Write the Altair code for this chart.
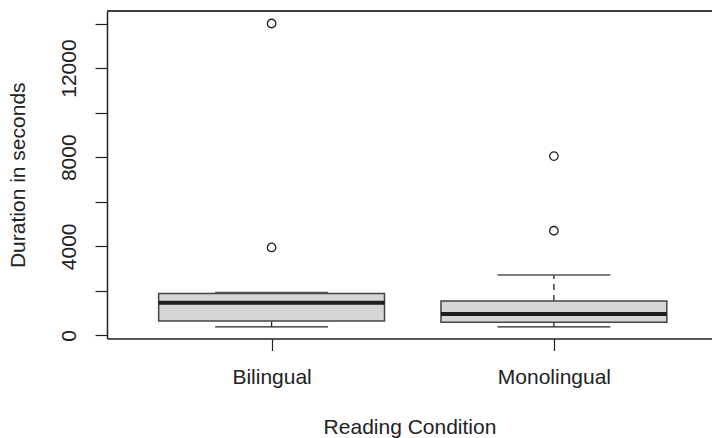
import altair as alt
import pandas as pd

categories = ["Bilingual", "Monolingual"]
lower_whisker = [390, 390]
q1 = [650, 590]
median = [1470, 965]
q3 = [1880, 1550]
upper_whisker = [1930, 2715]
outlier_group = ["Bilingual", "Bilingual", "Monolingual", "Monolingual"]
outlier_value = [14000, 3950, 8050, 4700]
y_ticks = [0, 2000, 4000, 6000, 8000, 10000, 12000, 14000]

FONT = "Liberation Sans"
FS = 21

pos = {c: i + 1 for i, c in enumerate(categories)}
box_df = pd.DataFrame({
    "group": categories,
    "pos": [pos[c] for c in categories],
    "lw": lower_whisker, "q1": q1, "med": median, "q3": q3, "uw": upper_whisker,
})
out_df = pd.DataFrame({"group": outlier_group, "value": outlier_value})
out_df["pos"] = out_df["group"].map(pos)

label_expr = " : ".join(
    [f"datum.value == {pos[c]} ? '{c}'" for c in categories]) + " : ''"

xscale = alt.Scale(domain=[0.417, 2.560], nice=False, zero=False)
yscale = alt.Scale(domain=[-135, 14561], nice=False, zero=False)

xaxis = alt.Axis(values=[pos[c] for c in categories], labelExpr=label_expr,
                 title="Reading Condition", grid=False, domain=True,
                 domainColor="#222", domainWidth=1.5, tickColor="#222",
                 tickWidth=1.2, tickSize=12, labelPadding=15.5,
                 titlePadding=29, labelFont=FONT, titleFont=FONT,
                 labelFontSize=FS, titleFontSize=FS, titleFontWeight="normal",
                 labelColor="#222", titleColor="#222")
yaxis = alt.Axis(values=y_ticks, format="d",
                 labelExpr="datum.value % 4000 === 0 ? datum.label : ''",
                 title="Duration in seconds", grid=False, domain=True,
                 domainColor="#222", domainWidth=1.5, tickColor="#222",
                 tickWidth=1.2, tickSize=12, labelAngle=270, labelPadding=15.5,
                 titlePadding=30, labelFont=FONT, titleFont=FONT,
                 labelFontSize=FS, titleFontSize=FS, titleFontWeight="normal",
                 labelColor="#222", titleColor="#222")

base = alt.Chart(box_df).transform_calculate(
    bl="datum.pos - 0.4", br="datum.pos + 0.4",
    cl="datum.pos - 0.2", cr="datum.pos + 0.2")

whisk_lo = base.mark_rule(color="#222", strokeWidth=1.3, strokeDash=[6, 5]).encode(
    x=alt.X("pos:Q", scale=xscale, axis=xaxis),
    y=alt.Y("lw:Q", scale=yscale, axis=yaxis), y2="q1:Q")
whisk_hi = base.mark_rule(color="#222", strokeWidth=1.3, strokeDash=[6, 5]).encode(
    x="pos:Q", y="q3:Q", y2="uw:Q")
cap_lo = base.mark_rule(color="#222", strokeWidth=1.3).encode(
    x="cl:Q", x2="cr:Q", y="lw:Q")
cap_hi = base.mark_rule(color="#555", strokeWidth=1.3).encode(
    x="cl:Q", x2="cr:Q", y="uw:Q")
box = base.mark_rect(fill="#d6d6d6", stroke="#444", strokeWidth=1.5).encode(
    x="bl:Q", x2="br:Q", y="q1:Q", y2="q3:Q")
med = base.mark_rule(color="#1e1e1e", strokeWidth=4).encode(
    x="bl:Q", x2="br:Q", y="med:Q")
outs = alt.Chart(out_df).mark_point(shape="circle", filled=False, color="#222",
                                    strokeWidth=1.3, size=72, opacity=1).encode(
    x="pos:Q", y="value:Q")
top = alt.Chart(box_df).mark_rule(color="#333", strokeWidth=1.5).encode(
    x=alt.value(0), x2=alt.value(620), y=alt.value(0))

chart = alt.layer(whisk_lo, whisk_hi, box, cap_lo, cap_hi, med, outs, top).properties(
    width=605, height=327.5,
    autosize=alt.AutoSizeParams(type="none"),
    padding={"left": 107, "top": 11, "right": 0, "bottom": 99.5},
    background="white",
).configure_view(stroke=None)

chart.save("out.html", embed_options={"renderer": "svg", "actions": False})
